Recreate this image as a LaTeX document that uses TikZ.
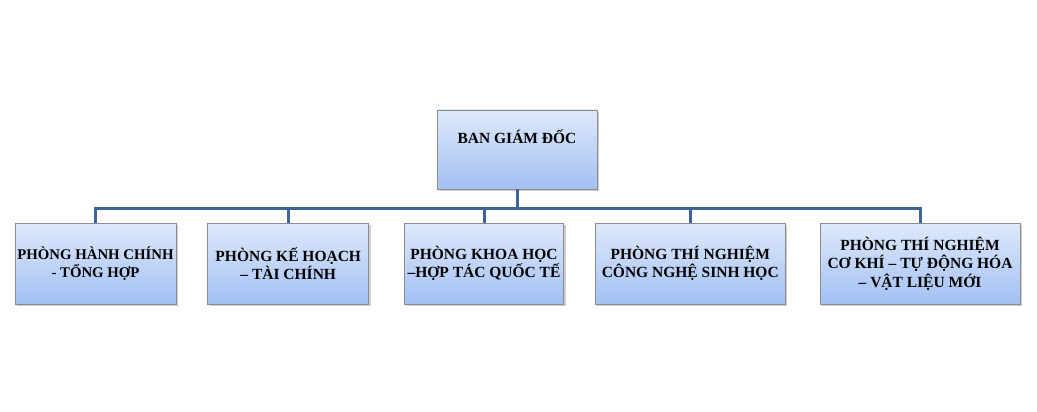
\documentclass[tikz,border=0pt]{standalone}
\usepackage{fontspec}
\setmainfont{Liberation Serif}
\usepackage{tikz}
\usetikzlibrary{positioning,calc,shadows}
\definecolor{OrgTop}{HTML}{DFE9FB}
\definecolor{OrgBottom}{HTML}{A2C0F3}
\definecolor{OrgEdge}{HTML}{8C8C8C}
\definecolor{OrgLine}{HTML}{3F6597}

\begin{document}
\begin{tikzpicture}[x=1pt,y=1pt,
  unit/.style={draw=OrgEdge,line width=0.75pt,top color=OrgTop,bottom color=OrgBottom,
    drop shadow={shadow xshift=2pt,shadow yshift=-2pt,opacity=0.35,fill=black!55},
    minimum height=81pt,inner sep=1pt,align=center,
    font=\bfseries\fontsize{15.5}{18.5}\selectfont},
  link/.style={draw=OrgLine,line width=3pt},
]
\useasboundingbox (0,0) rectangle (1037,-412);
\node[unit,minimum width=160pt,minimum height=79pt,text height=11pt,text depth=24pt] (bgd) at (517,-149.5) {BAN GIÁM ĐỐC};
\node[unit,minimum width=161pt,font=\bfseries\fontsize{14.8}{17.5}\selectfont] (hc) at (95.5,-263.5) {PHÒNG HÀNH CHÍNH\\- TỔNG HỢP};
\node[unit,minimum width=161pt,right=31pt of hc] (kh) {PHÒNG KẾ HOẠCH\\– TÀI CHÍNH};
\node[unit,minimum width=159pt,right=35pt of kh] (khcn) {PHÒNG KHOA HỌC\\–HỢP TÁC QUỐC TẾ};
\node[unit,minimum width=190pt,right=31pt of khcn] (sh) {PHÒNG THÍ NGHIỆM\\CÔNG NGHỆ SINH HỌC};
\node[unit,minimum width=200pt,right=34pt of sh] (ck) {PHÒNG THÍ NGHIỆM\\CƠ KHÍ – TỰ ĐỘNG HÓA\\– VẬT LIỆU MỚI};
\coordinate (bus) at ($(bgd.south)+(0,-19)$);
\foreach \p in {hc,kh,khcn,sh,ck}
  \draw[link] (bgd.south) -- (bus) -| (\p.north);
\end{tikzpicture}
\end{document}
